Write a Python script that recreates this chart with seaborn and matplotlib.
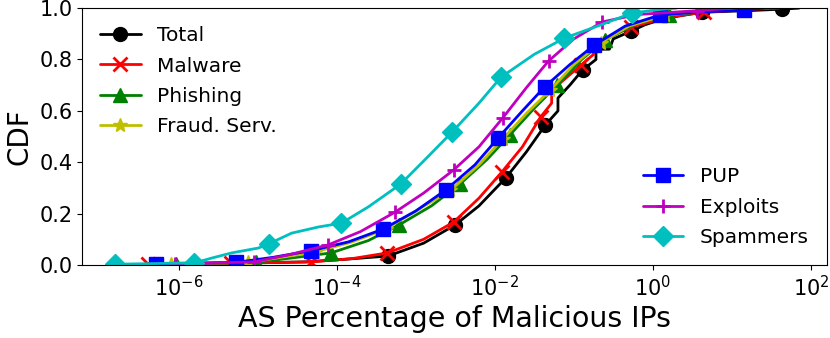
import numpy as np
import pandas as pd
import matplotlib
matplotlib.use("Agg")
import matplotlib.pyplot as plt
from matplotlib.lines import Line2D
from matplotlib.ticker import NullLocator
import seaborn as sns

# CDF curves (x = AS percentage of malicious IPs)
total_x = [3.98e-7, 3.98e-6, 3.98e-5, 1.26e-4, 4.47e-4, 1.26e-3, 3.16e-3, 6.31e-3, 1.38e-2,
           2.51e-2, 4.37e-2, 6.31e-2, 6.31e-2, 8.91e-2, 1.29e-1, 1.91e-1, 1.91e-1, 2.82e-1,
           3.16e-1, 5.37e-1, 7.94e-1, 1.41, 4.17, 15.8, 42.7, 70.8]
total_y = [0.003, 0.006, 0.012, 0.022, 0.035, 0.085, 0.156, 0.23, 0.339, 0.44, 0.545, 0.60,
           0.65, 0.70, 0.759, 0.80, 0.84, 0.84, 0.88, 0.911, 0.935, 0.96, 0.984, 0.99, 0.996, 1.0]
total_marks = [4, 6, 8, 10, 14, 19, 22, 24]

malware_x = [4.07e-7, 4.57e-6, 4.79e-5, 1.58e-4, 4.37e-4, 1.26e-3, 3.02e-3, 6.31e-3, 1.23e-2,
             2.24e-2, 3.80e-2, 5.25e-2, 5.25e-2, 1.23e-1, 1.78e-1, 1.78e-1, 5.25e-1, 1.58,
             4.47, 15.8, 39.8]
malware_y = [0.004, 0.007, 0.012, 0.025, 0.047, 0.10, 0.167, 0.26, 0.362, 0.46, 0.576, 0.63,
             0.68, 0.778, 0.82, 0.86, 0.926, 0.965, 0.984, 0.995, 1.0]
malware_marks = [0, 1, 2, 4, 6, 8, 10, 13, 16, 18]

phishing_x = [9.33e-7, 9.55e-6, 3.16e-5, 8.51e-5, 2.51e-4, 6.17e-4, 1.58e-3, 3.63e-3, 7.94e-3,
              1.55e-2, 3.16e-2, 6.17e-2, 1.26e-1, 2.45e-1, 6.31e-1, 1.62, 6.31, 20.0]
phishing_y = [0.004, 0.010, 0.03, 0.047, 0.095, 0.156, 0.23, 0.315, 0.41, 0.506, 0.61, 0.70,
              0.80, 0.875, 0.94, 0.973, 0.99, 1.0]
phishing_marks = [0, 1, 3, 5, 7, 9, 11, 13, 15]

fraud_x = [7.94e-7, 7.59e-6, 2.0e-5, 5.25e-5, 1.58e-4, 4.17e-4, 1.0e-3, 2.75e-3, 6.31e-3,
           1.26e-2, 2.51e-2, 5.01e-2, 1.0e-1, 2.19e-1, 5.01e-1, 1.41, 5.01, 15.8]
fraud_y = [0.004, 0.010, 0.03, 0.05, 0.09, 0.14, 0.21, 0.29, 0.39, 0.49, 0.59, 0.68, 0.78,
           0.865, 0.93, 0.972, 0.99, 1.0]
fraud_marks = [0, 1, 3, 5, 7, 9, 11, 13, 15]

pup_x = [5.25e-7, 5.37e-6, 1.58e-5, 4.79e-5, 1.41e-4, 3.89e-4, 1.0e-3, 2.40e-3, 5.62e-3,
         1.10e-2, 2.24e-2, 4.27e-2, 8.91e-2, 1.82e-1, 4.47e-1, 1.23, 3.98, 14.1, 25.1]
pup_y = [0.005, 0.010, 0.03, 0.056, 0.09, 0.140, 0.21, 0.292, 0.39, 0.494, 0.60, 0.693, 0.78,
         0.856, 0.93, 0.973, 0.985, 0.992, 1.0]
pup_marks = [0, 1, 3, 5, 7, 9, 11, 13, 15, 17]

exploits_x = [9.12e-7, 8.91e-6, 2.51e-5, 7.76e-5, 2.0e-4, 5.50e-4, 1.26e-3, 3.02e-3, 6.31e-3,
              1.26e-2, 2.51e-2, 4.79e-2, 1.0e-1, 2.29e-1, 6.31e-1, 3.63, 10.0]
exploits_y = [0.004, 0.012, 0.04, 0.078, 0.13, 0.206, 0.28, 0.370, 0.46, 0.572, 0.69, 0.794,
              0.88, 0.946, 0.975, 0.99, 1.0]
exploits_marks = [0, 1, 3, 5, 7, 9, 11, 13, 15]

spam_x = [1.55e-7, 1.58e-6, 2.63e-6, 4.68e-6, 1.02e-5, 1.38e-5, 2.69e-5, 5.89e-5, 1.15e-4,
          2.51e-4, 6.46e-4, 1.41e-3, 2.88e-3, 6.31e-3, 1.20e-2, 3.16e-2, 7.59e-2, 2.0e-1,
          5.50e-1, 1.26, 2.0]
spam_y = [0.003, 0.008, 0.027, 0.047, 0.066, 0.082, 0.124, 0.148, 0.163, 0.226, 0.315, 0.42,
          0.517, 0.63, 0.731, 0.82, 0.883, 0.93, 0.981, 0.995, 1.0]
spam_marks = [0, 1, 5, 8, 10, 12, 14, 16, 18]

series = [
    ("Total", total_x, total_y, total_marks, "k", "o"),
    ("Malware", malware_x, malware_y, malware_marks, "r", "x"),
    ("Phishing", phishing_x, phishing_y, phishing_marks, "g", "^"),
    ("Fraud. Serv.", fraud_x, fraud_y, fraud_marks, "y", "*"),
    ("PUP", pup_x, pup_y, pup_marks, "b", "s"),
    ("Exploits", exploits_x, exploits_y, exploits_marks, "m", "+"),
    ("Spammers", spam_x, spam_y, spam_marks, "c", "D"),
]

sns.set_style("ticks")
plt.rcParams["font.family"] = ["DejaVu Sans"]
plt.rcParams["axes.edgecolor"] = "black"
plt.rcParams["xtick.color"] = "black"
plt.rcParams["ytick.color"] = "black"
plt.rcParams["text.color"] = "black"
plt.rcParams["axes.labelcolor"] = "black"

fig = plt.figure(figsize=(8.3, 3.38), dpi=100)
ax = fig.add_axes([0.099, 0.216, 0.897, 0.76])

handles = []
for name, xs, ys, marks, color, mk in series:
    mew = 2 if mk in ("x", "+") else 1
    df = pd.DataFrame({"x": xs, "y": ys})
    sns.lineplot(data=df, x="x", y="y", ax=ax, color=color, lw=2, marker=mk, markersize=10,
                 markevery=marks, markeredgecolor=color, markeredgewidth=mew,
                 sort=False, estimator=None, legend=False)
    handles.append(Line2D([], [], color=color, lw=2, marker=mk, markersize=10,
                          markeredgecolor=color, markeredgewidth=mew, label=name))

ax.set_xscale("log")
ax.set_xlim(10 ** -7.22, 10 ** 2.2)
ax.set_ylim(0, 1)
ax.set_xticks([1e-6, 1e-4, 1e-2, 1e0, 1e2])
ax.xaxis.set_minor_locator(NullLocator())
ax.set_yticks([0.0, 0.2, 0.4, 0.6, 0.8, 1.0])
ax.tick_params(labelsize=15)
ax.set_xlabel("AS Percentage of Malicious IPs", fontsize=20.5)
ax.set_ylabel("CDF", fontsize=20)

leg1 = ax.legend(handles=handles[:4], loc="upper left", frameon=False, fontsize=14.5,
                 labelspacing=0.56)
ax.add_artist(leg1)
ax.legend(handles=handles[4:], loc="lower right", frameon=False, fontsize=14.5,
          labelspacing=0.56)

fig.savefig("out.png", dpi=100)
